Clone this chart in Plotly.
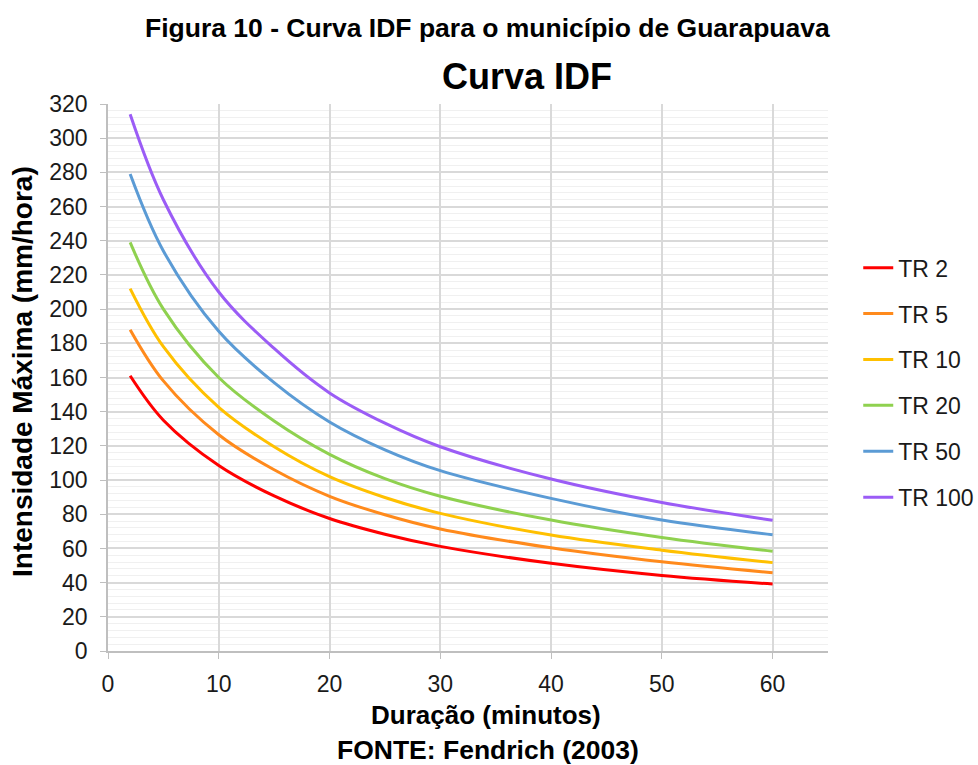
import plotly.graph_objects as go

# Duração (min) e intensidades máximas (mm/h) por período de retorno
duracao = [2, 5, 10, 15, 20, 25, 30, 40, 50, 60]
tr2 = [161, 135, 108.5, 90.7, 77.5, 68.3, 61.2, 51.3, 44.2, 39.2]
tr5 = [188, 158, 126.5, 106, 90.5, 79.7, 71.4, 60.4, 52.2, 45.8]
tr10 = [212, 178, 142.5, 119.5, 102, 89.8, 80.5, 67.8, 59.0, 51.7]
tr20 = [239, 200, 160, 134.5, 115, 100.8, 90.5, 76.6, 66.4, 58.3]
tr50 = [279, 234, 187, 157, 134, 117.7, 105.5, 89.3, 76.6, 68.0]
tr100 = [314, 264, 210, 177, 151, 133.3, 119.5, 100.6, 86.9, 76.5]

series = [
    ("TR 2", tr2, "#FF0000"),
    ("TR 5", tr5, "#FF8A1C"),
    ("TR 10", tr10, "#FFC000"),
    ("TR 20", tr20, "#8FD14F"),
    ("TR 50", tr50, "#5B9BD5"),
    ("TR 100", tr100, "#9B5CF6"),
]

FONT = "Liberation Sans, Arial, sans-serif"
TICK = 23

# plot area in pixels: x 108..828, y 104..651
PL, PR, PT, PB = 108, 828, 104, 651
W, H = PR - PL, PB - PT


def px(x):
    return (x - PL) / W


def py(y):
    return (PB - y) / H


fig = go.Figure()
for i, (name, vals, color) in enumerate(series):
    fig.add_trace(go.Scatter(
        x=duracao, y=vals, name=name, mode="lines",
        line=dict(color=color, width=3, shape="spline", smoothing=1.0),
        legendgroup=f"g{i}",
    ))

fig.update_layout(
    width=978, height=765,
    margin=dict(l=PL, r=978 - PR, t=PT, b=765 - PB, autoexpand=False),
    paper_bgcolor="white", plot_bgcolor="white",
    font=dict(family=FONT, size=TICK, color="#1a1a1a"),
    showlegend=True,
    legend=dict(
        x=1.042, xanchor="left", y=0.74, yanchor="top",
        font=dict(family=FONT, size=TICK, color="#1a1a1a"),
        tracegroupgap=13, bgcolor="rgba(0,0,0,0)",
    ),
    xaxis=dict(
        range=[0, 65], dtick=10, tick0=0,
        showgrid=True, gridcolor="#D9D9D9", gridwidth=1.5,
        showline=True, linecolor="#BFBFBF", linewidth=1.5,
        ticks="outside", ticklen=6, tickcolor="#BFBFBF",
        ticklabelstandoff=6,
        zeroline=False,
        tickfont=dict(family=FONT, size=TICK, color="#1a1a1a"),
    ),
    yaxis=dict(
        range=[0, 320], dtick=20, tick0=0,
        showgrid=True, gridcolor="#D9D9D9", gridwidth=1.5,
        showline=True, linecolor="#BFBFBF", linewidth=1.5,
        ticks="outside", ticklen=6, tickcolor="#BFBFBF",
        ticklabelstandoff=8,
        zeroline=False,
        minor=dict(dtick=4, showgrid=True, gridcolor="#F0F0F0", gridwidth=1),
        tickfont=dict(family=FONT, size=TICK, color="#1a1a1a"),
    ),
    annotations=[
        dict(text="<b>Figura 10 - Curva IDF para o município de Guarapuava</b>",
             xref="paper", yref="paper", x=px(487), y=py(28),
             xanchor="center", yanchor="middle", showarrow=False,
             font=dict(family=FONT, size=26.5, color="#000000")),
        dict(text="<b>Curva IDF</b>",
             xref="paper", yref="paper", x=px(527), y=py(76),
             xanchor="center", yanchor="middle", showarrow=False,
             font=dict(family=FONT, size=36, color="#000000")),
        dict(text="<b>Intensidade Máxima (mm/hora)</b>",
             xref="paper", yref="paper", x=px(22), y=py(372), textangle=-90,
             xanchor="center", yanchor="middle", showarrow=False,
             font=dict(family=FONT, size=28, color="#000000")),
        dict(text="<b>Duração (minutos)</b>",
             xref="paper", yref="paper", x=px(486), y=py(715),
             xanchor="center", yanchor="middle", showarrow=False,
             font=dict(family=FONT, size=26, color="#000000")),
        dict(text="<b>FONTE: Fendrich (2003)</b>",
             xref="paper", yref="paper", x=px(488), y=py(750),
             xanchor="center", yanchor="middle", showarrow=False,
             font=dict(family=FONT, size=26.5, color="#000000")),
    ],
)

fig.write_html("out.html")
